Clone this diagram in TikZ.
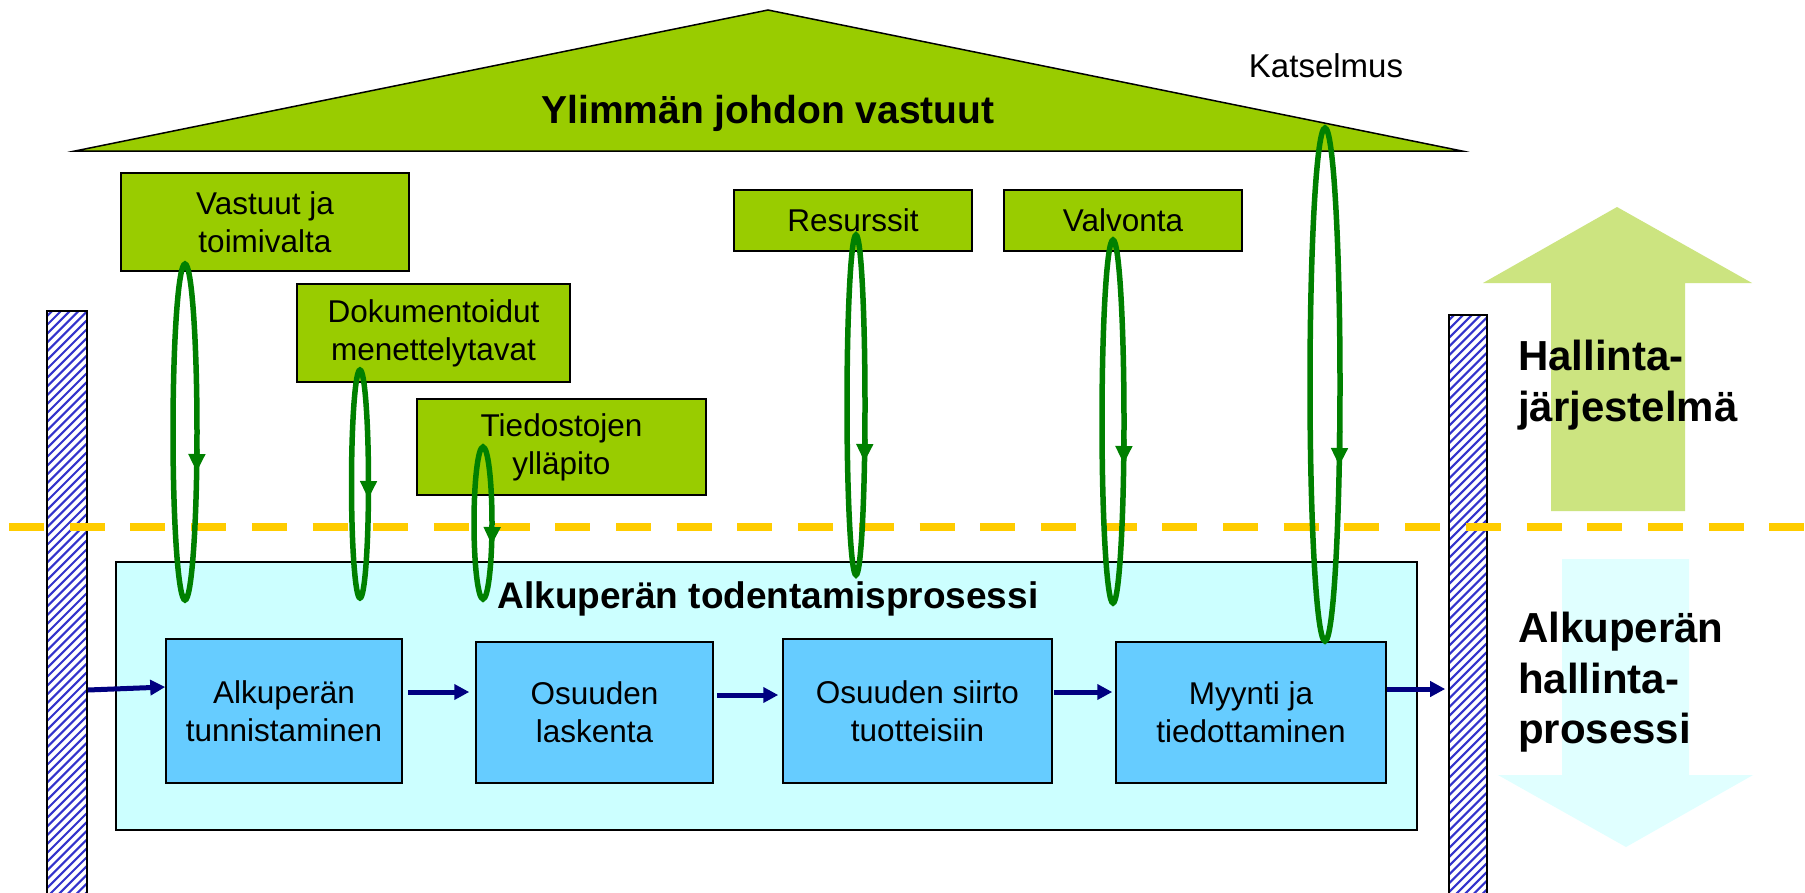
\documentclass[tikz,border=0pt]{standalone}
\usepackage{fontspec}
\setmainfont{Liberation Sans}
\usetikzlibrary{arrows.meta,calc}
\definecolor{boxgreen}{RGB}{153,204,0}
\definecolor{procblue}{RGB}{102,204,255}
\definecolor{lightcyan}{RGB}{204,255,255}
\definecolor{dashyellow}{RGB}{255,204,0}
\definecolor{loopgreen}{RGB}{0,128,0}
\definecolor{navyarrow}{RGB}{0,0,128}
\definecolor{hatchblue}{RGB}{51,51,204}
\definecolor{upgreen}{RGB}{204,228,128}
\definecolor{downcyan}{RGB}{224,255,255}
\newcommand\greenloop[5]{%
  \pgfmathsetmacro\loopcy{(#2+#3)/2}%
  \pgfmathsetmacro\loopb{(#3-#2)/2}%
  \pgfmathsetmacro\loopt{asin((#5-\loopcy)/\loopb)}%
  \draw[loopline] (#1,\loopcy) ellipse [x radius=#4, y radius=\loopb];
  \draw[loopline,-{Triangle[length=18pt,width=16pt]}] ({#1+#4*cos(\loopt-8)},{\loopcy+\loopb*sin(\loopt-8)}) -- ({#1+#4*cos(\loopt)},{\loopcy+\loopb*sin(\loopt)});
}
\begin{document}
\begin{tikzpicture}[x=1pt,y=-1pt,
  boxfont/.style={font=\fontsize{31.5}{37.8}\selectfont},
  greenbox/.style={boxfont, draw=black, line width=1.5pt, fill=boxgreen, align=center, inner sep=0pt},
  procbox/.style={boxfont, draw=black, line width=1.5pt, fill=procblue, align=center, inner sep=0pt},
  pillarbox/.style={draw=black, line width=1.6pt, fill=white, inner sep=0pt,
    path picture={\foreach \k in {0,...,80}{\draw[hatchblue, line width=2.1pt] ($(path picture bounding box.north west)+(-5,-25+\k*8.8)$) -- ++(60,-60);}}},
  navyline/.style={navyarrow, line width=5pt, -{Triangle[length=15pt,width=15pt]}},
  loopline/.style={loopgreen, line width=5.5pt},
  sidelabel/.style={anchor=base west, font=\fontsize{42}{50}\bfseries\selectfont, inner sep=0pt},
]
\useasboundingbox (0,0) rectangle (1805,892);
\fill[white] (0,0) rectangle (1805,892);

% roof
\draw[fill=boxgreen, line width=1.5pt, line join=miter] (75,151) -- (768,10) -- (1462,151) -- cycle;
\node[anchor=base, font=\fontsize{39}{46}\bfseries\selectfont, inner sep=0pt] (roof) at (768,123) {Ylimmän johdon vastuut};
\node[anchor=base, font=\fontsize{33}{40}\selectfont, inner sep=0pt] (katselmus) at (1326,77) {Katselmus};

% green boxes
\node[greenbox, minimum width=288pt, minimum height=98pt] (vastuut) at (265,222) {Vastuut ja\\toimivalta};
\node[greenbox, minimum width=273pt, minimum height=98pt] (dokum) at (433.5,333) {Dokumentoidut\\menettelytavat};
\node[greenbox, minimum width=289pt, minimum height=96pt] (tied) at (561.5,447) {Tiedostojen\\ylläpito};
\node[greenbox, minimum width=238pt, minimum height=61pt] (resurssit) at (853,220.5) {Resurssit};
\node[greenbox, minimum width=238pt, minimum height=61pt] (valvonta) at (1123,220.5) {Valvonta};

% pillars
\node[pillarbox, minimum width=40pt, minimum height=589pt] (pilL) at (67,605.5) {};
\node[pillarbox, minimum width=38pt, minimum height=585pt] (pilR) at (1468,607.5) {};

% process area
\node[draw=black, line width=1.5pt, fill=lightcyan, minimum width=1301pt, minimum height=268pt, inner sep=0pt] (proc) at (766.5,696) {};
\node[anchor=base, font=\fontsize{37}{44}\bfseries\selectfont, inner sep=0pt] (proctitle) at (768,608) {Alkuperän todentamisprosessi};
\node[procbox, minimum width=236pt, minimum height=144pt] (b1) at (284,711) {Alkuperän\\tunnistaminen};
\node[procbox, minimum width=237pt, minimum height=141pt] (b2) at (594.5,712.5) {Osuuden\\laskenta};
\node[procbox, minimum width=269pt, minimum height=144pt] (b3) at (917.5,711) {Osuuden siirto\\tuotteisiin};
\node[procbox, minimum width=270pt, minimum height=141pt] (b4) at (1251,712.5) {Myynti ja\\tiedottaminen};

\coordinate (y687) at (0,687);
\coordinate (y689) at (0,689);
\coordinate (y690) at (0,690);
\coordinate (y692) at (0,692);
\coordinate (y695) at (0,695);
\draw[navyline] (pilL.east |- y690) -- (b1.west |- y687);
\draw[navyline, shorten <=5pt, shorten >=6pt] (b1.east |- y692) -- (b2.west |- y692);
\draw[navyline, shorten <=3pt, shorten >=4pt] (b2.east |- y695) -- (b3.west |- y695);
\draw[navyline, shorten <=1pt, shorten >=3pt] (b3.east |- y692) -- (b4.west |- y692);
\draw[navyline, shorten >=3pt] (b4.east |- y689) -- (pilR.west |- y689);

% dashed separator
\draw[dashyellow, line width=8pt, dash pattern=on 35pt off 25.7pt] (9,527) -- (1805,527);

% big side arrows
\fill[upgreen] (1551,511) -- (1551,283) -- (1483,283) -- (1617,207) -- (1752,283) -- (1685,283) -- (1685,511) -- cycle;
\fill[downcyan] (1562,559) -- (1689,559) -- (1689,775) -- (1753,775) -- (1626,847) -- (1498,775) -- (1562,775) -- cycle;
\node[sidelabel] (hal1) at (1518,370) {Hallinta-};
\node[sidelabel] (hal2) at (1518,421) {järjestelmä};
\node[sidelabel] (alk1) at (1518,642) {Alkuperän};
\node[sidelabel] (alk2) at (1518,693) {hallinta-};
\node[sidelabel] (alk3) at (1518,743) {prosessi};

% feedback loops
\greenloop{185}{264}{600}{12}{472}
\greenloop{360}{370}{598}{8.5}{499}
\greenloop{483}{447}{599}{9}{545}
\greenloop{856}{235}{575}{9}{462}
\greenloop{1113}{240}{603}{11}{464}
\greenloop{1325}{128}{641}{15}{466}
\end{tikzpicture}
\end{document}
